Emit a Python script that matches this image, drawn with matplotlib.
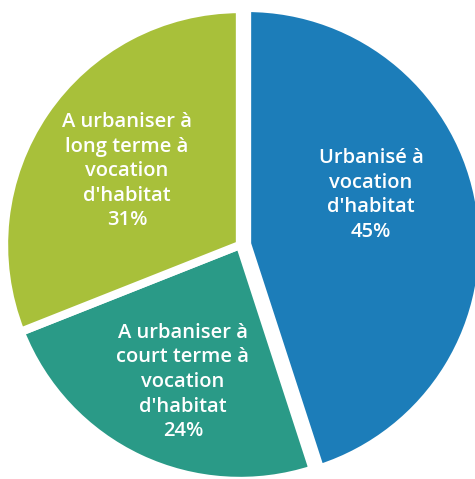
import matplotlib
matplotlib.use("Agg")
import matplotlib.pyplot as plt

# ── Data ──────────────────────────────────────────────
labels = [
    "Urbanisé à\nvocation\nd'habitat\n45%",
    "A urbaniser à\ncourt terme à\nvocation\nd'habitat\n24%",
    "A urbaniser à\nlong terme à\nvocation\nd'habitat\n31%",
]
shares = [45, 24, 31]
colors = ["#1c7db9", "#2a9a87", "#a8c03a"]
explode = [0.03, 0.0, 0.0]   # fraction of the radius

# label centres, offset from the pie centre in pixels
label_pos = [(131, 50), (-57, -137), (-113, 74)]

W, H = 475, 479
CX, CY = 240, 245          # pie centre in image pixels (from top-left)
R = 236

fig = plt.figure(figsize=(W / 100, H / 100), dpi=100)
ax = fig.add_axes([0, 0, 1, 1])

# pie() takes explode in data units, so scale it by the radius
ax.pie(shares, colors=colors, startangle=90, counterclock=False,
       radius=R, explode=[e * R for e in explode],
       wedgeprops=dict(edgecolor="white", linewidth=6))

for txt, (dx, dy) in zip(labels, label_pos):
    ax.text(dx, dy, txt, ha="center", va="center", color="white",
            fontsize=14.5, fontweight="semibold",
            family=["Open Sans", "DejaVu Sans"], linespacing=1.3)

ax.set_xlim(-CX, W - CX)
ax.set_ylim(-(H - CY), CY)
ax.set_aspect("equal")
ax.axis("off")

fig.savefig("out.png", dpi=100, facecolor="white")
